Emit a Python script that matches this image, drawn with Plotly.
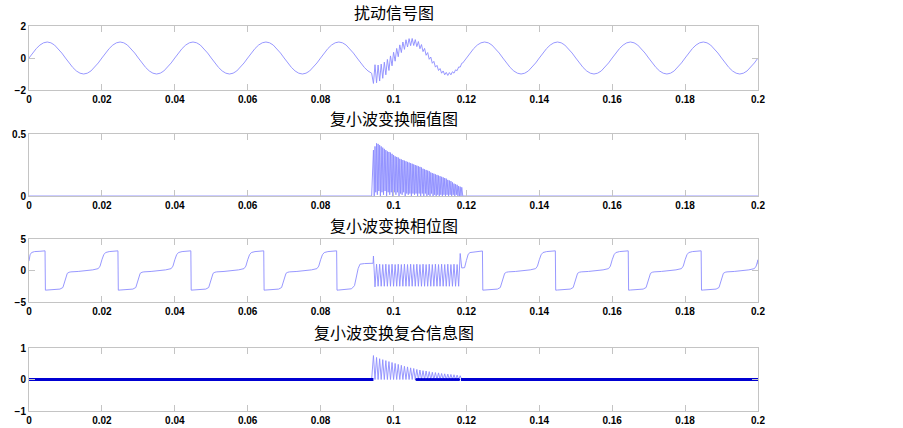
import numpy as np
import plotly.graph_objects as go

# sampling of the smooth parts and of the disturbance burst
dt = 0.001
burst_start = 0.0945
burst_step = 0.000425  # half a period of the high-frequency ripple

# one 50 Hz period of the clean signal (20 samples)
sig_cycle = [0.0, 0.31, 0.59, 0.81, 0.95, 1.0, 0.95, 0.81, 0.59, 0.31,
             0.0, -0.31, -0.59, -0.81, -0.95, -1.0, -0.95, -0.81, -0.59, -0.31]

# disturbed signal during the burst (one value per half ripple period)
sig_burst = [-1.59, -0.42, -1.55, -0.44, -1.44, -0.38, -1.27, -0.26, -1.05, -0.09,
             -0.78, 0.13, -0.49, 0.36, -0.20, 0.60, 0.08, 0.82, 0.34, 1.00,
             0.54, 1.14, 0.69, 1.21, 0.77, 1.22, 0.78, 1.15, 0.71, 1.03,
             0.58, 0.84, 0.40, 0.60, 0.17, 0.34, -0.08, 0.06, -0.33, -0.21,
             -0.57, -0.46, -0.78, -0.66, -0.95, -0.81, -1.05, -0.90, -1.09, -0.91,
             -1.05, -0.86, -0.95, -0.74, -0.79, -0.56, -0.57, -0.33]

# wavelet magnitude during the burst: ripple tops and the dips between them
mag_top = [0.37, 0.40, 0.425, 0.42, 0.41, 0.40, 0.39, 0.38, 0.37, 0.36,
           0.355, 0.35, 0.34, 0.33, 0.32, 0.315, 0.31, 0.30, 0.295, 0.29,
           0.285, 0.28, 0.275, 0.27, 0.265, 0.26, 0.255, 0.25, 0.245, 0.24,
           0.235, 0.23, 0.22, 0.215, 0.21, 0.205, 0.20, 0.19, 0.185, 0.18,
           0.175, 0.17, 0.165, 0.16, 0.155, 0.15, 0.145, 0.14, 0.13, 0.125,
           0.12, 0.11, 0.10, 0.095, 0.09, 0.08, 0.075, 0.07]
mag_dip = [0.0, 0.03, 0.01, 0.04, 0.0, 0.03, 0.01, 0.04, 0.0, 0.03,
           0.01, 0.03, 0.0, 0.03, 0.01, 0.03, 0.0, 0.02, 0.01, 0.03,
           0.0, 0.02, 0.01, 0.02, 0.0, 0.02, 0.01, 0.02, 0.0, 0.02,
           0.0, 0.02, 0.0, 0.02, 0.0, 0.01, 0.0, 0.02, 0.0, 0.01,
           0.0, 0.01, 0.0, 0.01, 0.0, 0.01, 0.0, 0.01, 0.0, 0.01,
           0.0, 0.01, 0.0, 0.01, 0.0, 0.0, 0.0, 0.0]

# phase: one period starting at the -pi jump (offsets in s, values in rad)
phase_tau = [0.0, 0.0005, 0.002, 0.004, 0.0048, 0.0052, 0.0056, 0.006, 0.0065, 0.007,
             0.009, 0.011, 0.013, 0.0145, 0.015, 0.0155, 0.016, 0.0165, 0.0175, 0.0199]
phase_cycle = [-3.12, -3.1, -3.05, -2.95, -2.7, -2.0, -1.0, -0.45, -0.28, -0.22,
               -0.15, -0.05, 0.1, 0.3, 0.7, 1.7, 2.5, 2.85, 3.0, 3.12]
phase_head_t = [0.0, 0.0003, 0.0007, 0.0015, 0.003, 0.0044]
phase_head = [1.5, 2.5, 2.85, 3.0, 3.05, 3.12]
phase_pre_t = [0.0845, 0.085, 0.0865, 0.0885, 0.0893, 0.0898, 0.0903, 0.0908, 0.092, 0.0944]
phase_pre = [-3.12, -3.1, -3.05, -2.9, -2.4, -1.0, 0.3, 1.0, 1.1, 1.15]
phase_burst = [2.3, -2.6, 1.0, -2.5, 1.0, -2.5, 0.95, -2.5, 1.0, -2.5,
               0.95, -2.5, 1.0, -2.5, 0.95, -2.5, 1.0, -2.5, 0.95, -2.5,
               1.0, -2.5, 0.95, -2.5, 1.0, -2.5, 0.95, -2.5, 1.0, -2.5,
               0.95, -2.5, 1.0, -2.5, 0.95, -2.5, 1.0, -2.5, 0.95, -2.5,
               1.0, -2.5, 0.95, -2.5, 1.0, -2.5, 0.95, -2.5, 1.0, -2.5,
               0.95, -2.5, 1.0, -2.5, 0.95, -2.5, 2.7, 0.4]
phase_post_t = [0.1195, 0.1200, 0.1205, 0.121, 0.123, 0.1244]
phase_post = [0.45, 1.6, 2.6, 2.85, 2.95, 3.1]

# complex information plot: ripple spikes (one per ripple period)
info_top = [0.76, 0.70, 0.66, 0.63, 0.60, 0.57, 0.54, 0.51, 0.48, 0.45,
            0.42, 0.40, 0.37, 0.35, 0.32, 0.30, 0.28, 0.27, 0.25, 0.23,
            0.22, 0.21, 0.19, 0.18, 0.17, 0.16, 0.15, 0.14, 0.12]

titles = ["扰动信号图", "复小波变换幅值图", "复小波变换相位图", "复小波变换复合信息图"]
y_ranges = [(-2, 2), (0, 0.5), (-5, 5), (-1, 1)]
y_ticks = [[-2, 0, 2], [0, 0.5], [-5, 0, 5], [-1, 0, 1]]
x_ticks = [0, 0.02, 0.04, 0.06, 0.08, 0.1, 0.12, 0.14, 0.16, 0.18, 0.2]
x_labels = ["0", "0.02", "0.04", "0.06", "0.08", "0.1", "0.12", "0.14", "0.16", "0.18", "0.2"]

# ---- assemble series ----
n_pre, n_post0 = 95, 119
t_pre = np.arange(n_pre) * dt
t_post = np.arange(n_post0, 201) * dt
t_burst = burst_start + np.arange(len(sig_burst)) * burst_step
cyc = np.tile(sig_cycle, 11)

t1 = np.concatenate([t_pre, t_burst, t_post])
y1 = np.concatenate([cyc[:n_pre], sig_burst, cyc[n_post0:201]])

t_mag = np.ravel(np.column_stack([t_burst, t_burst + burst_step / 2]))
y_mag = np.ravel(np.column_stack([mag_top, mag_dip]))
t2 = np.concatenate([t_pre, t_mag, t_post])
y2 = np.concatenate([np.zeros(n_pre), y_mag, np.zeros(len(t_post))])

t3, y3 = list(phase_head_t), list(phase_head)
for start in [0.0045, 0.0245, 0.0445, 0.0645]:
    t3 += [start + v for v in phase_tau]
    y3 += phase_cycle
t3 += phase_pre_t + list(t_burst) + phase_post_t
y3 += phase_pre + phase_burst + phase_post
for start in [0.1245, 0.1445, 0.1645, 0.1845]:
    for tau, v in zip(phase_tau, phase_cycle):
        if start + tau <= 0.2:
            t3.append(start + tau)
            y3.append(v)
t3.append(0.2)
y3.append(1.0)

t_spk = t_burst[::2]
t_info = np.ravel(np.column_stack([t_spk, t_spk + burst_step]))
y_info = np.ravel(np.column_stack([info_top, np.zeros(len(info_top))]))
t4 = np.concatenate([t_pre, t_info, t_post])
y4 = np.concatenate([np.zeros(n_pre), y_info, np.zeros(len(t_post))])
t4_dark = np.concatenate([t_pre, [0.0945, None, 0.1185], t_post])
y4_dark = np.concatenate([np.zeros(n_pre), [0, None, 0], np.zeros(len(t_post))])
t4_dots = t_burst[(t_burst > 0.106) & (t_burst < 0.1182)]

# ---- figure ----
W, H = 903, 428
x_dom = [29 / W, 758 / W]
panels_px = [(26, 90), (134, 196), (239, 302), (348, 411)]
title_px = [12, 118, 225, 332]

light = "rgb(140,140,255)"
fig = go.Figure()
series = [(t1, y1), (t2, y2), (t3, y3), (t4, y4)]
for i, (tx, ty) in enumerate(series):
    fig.add_trace(go.Scatter(x=tx, y=ty, mode="lines", line=dict(color=light, width=0.9),
                             xaxis=f"x{i + 1}", yaxis=f"y{i + 1}", showlegend=False))
fig.add_trace(go.Scatter(x=t4_dark, y=y4_dark, mode="lines", connectgaps=False,
                         line=dict(color="rgb(0,0,210)", width=3),
                         xaxis="x4", yaxis="y4", showlegend=False))
fig.add_trace(go.Scatter(x=t4_dots, y=np.zeros(len(t4_dots)), mode="markers",
                         marker=dict(color="rgb(0,0,210)", size=3),
                         xaxis="x4", yaxis="y4", showlegend=False))

axis_style = dict(showline=True, linecolor="#c4c4c4", linewidth=1, mirror="ticks",
                  ticks="inside", ticklen=6, tickcolor="#c4c4c4", showgrid=False,
                  zeroline=False, automargin=False,
                  tickfont=dict(family="Liberation Sans, Arial", size=10, color="black",
                                weight="bold"))
layout = dict(width=W, height=H, margin=dict(l=0, r=0, t=0, b=0),
              paper_bgcolor="white", plot_bgcolor="white", annotations=[])
for i, ((top, bot), tp) in enumerate(zip(panels_px, title_px)):
    n = i + 1
    layout[f"xaxis{n}"] = dict(axis_style, domain=x_dom, range=[0, 0.2], tickvals=x_ticks,
                               ticktext=x_labels, anchor=f"y{n}")
    layout[f"yaxis{n}"] = dict(axis_style, domain=[(H - bot) / H, (H - top) / H],
                               range=list(y_ranges[i]), tickvals=y_ticks[i], anchor=f"x{n}")
    layout["annotations"].append(dict(text=titles[i], x=(x_dom[0] + x_dom[1]) / 2,
                                      y=(H - tp) / H, xref="paper", yref="paper",
                                      xanchor="center", yanchor="middle", showarrow=False,
                                      font=dict(family="Noto Sans CJK SC", size=16,
                                                color="black")))
fig.update_layout(**layout)

# drop the default page margin so the figure sits at the window's corner
fig.write_html("out.html", config={"displayModeBar": False},
               post_script="document.body.style.margin = '0';")
